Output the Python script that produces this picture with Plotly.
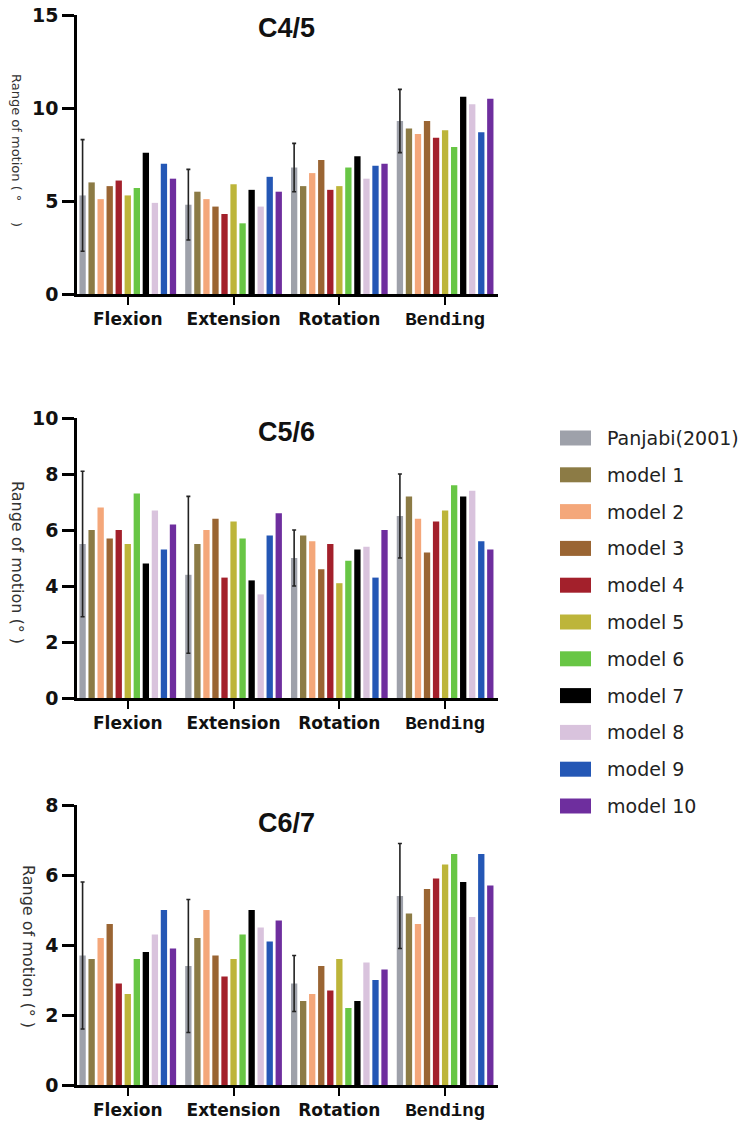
import plotly.graph_objects as go

W, H = 752, 1127

categories = ["Flexion", "Extension", "Rotation", "Bending"]
series_names = ["Panjabi(2001)", "model 1", "model 2", "model 3", "model 4", "model 5",
                "model 6", "model 7", "model 8", "model 9", "model 10"]
series_colors = ["#9EA1AA", "#8C7B45", "#F4A77A", "#9A6533", "#A3202B", "#BDB53A",
                 "#68C645", "#000000", "#D9C3DD", "#2457B5", "#6E2E9E"]

# C4/5 values, one row per series (Flexion, Extension, Rotation, Bending)
c45_values = [
    [5.3, 4.8, 6.8, 9.3],
    [6.0, 5.5, 5.8, 8.9],
    [5.1, 5.1, 6.5, 8.6],
    [5.8, 4.7, 7.2, 9.3],
    [6.1, 4.3, 5.6, 8.4],
    [5.3, 5.9, 5.8, 8.8],
    [5.7, 3.8, 6.8, 7.9],
    [7.6, 5.6, 7.4, 10.6],
    [4.9, 4.7, 6.2, 10.2],
    [7.0, 6.3, 6.9, 8.7],
    [6.2, 5.5, 7.0, 10.5],
]
c45_panjabi_err = [3.0, 1.9, 1.3, 1.7]

c56_values = [
    [5.5, 4.4, 5.0, 6.5],
    [6.0, 5.5, 5.8, 7.2],
    [6.8, 6.0, 5.6, 6.4],
    [5.7, 6.4, 4.6, 5.2],
    [6.0, 4.3, 5.5, 6.3],
    [5.5, 6.3, 4.1, 6.7],
    [7.3, 5.7, 4.9, 7.6],
    [4.8, 4.2, 5.3, 7.2],
    [6.7, 3.7, 5.4, 7.4],
    [5.3, 5.8, 4.3, 5.6],
    [6.2, 6.6, 6.0, 5.3],
]
c56_panjabi_err = [2.6, 2.8, 1.0, 1.5]

c67_values = [
    [3.7, 3.4, 2.9, 5.4],
    [3.6, 4.2, 2.4, 4.9],
    [4.2, 5.0, 2.6, 4.6],
    [4.6, 3.7, 3.4, 5.6],
    [2.9, 3.1, 2.7, 5.9],
    [2.6, 3.6, 3.6, 6.3],
    [3.6, 4.3, 2.2, 6.6],
    [3.8, 5.0, 2.4, 5.8],
    [4.3, 4.5, 3.5, 4.8],
    [5.0, 4.1, 3.0, 6.6],
    [3.9, 4.7, 3.3, 5.7],
]
c67_panjabi_err = [2.1, 1.9, 0.8, 1.5]

panel_titles = ["C4/5", "C5/6", "C6/7"]
panel_ranges = [[0, 15], [0, 10], [0, 8]]
panel_dticks = [5, 2, 2]
y_titles = ["Range of motion ( °\u00a0\u00a0\u00a0\u00a0\u00a0)",
            "Range of motion (° )", "Range of motion (° )"]

tick_text = ["<b>Flexion</b>", "<b>Extension</b>", "<b>Rotation</b>",
             "<span style='font-family:Liberation Mono;font-weight:bold;font-size:19px'>Bending</span>"]


def px_x(x):
    return x / W


def px_y(y):
    return 1 - y / H


# plot area pixel boxes (left, right, top, bottom)
boxes = [(77, 498, 15, 294), (77, 498, 418, 698), (77, 498, 805, 1085)]

fig = go.Figure()
panels = [(c45_values, c45_panjabi_err), (c56_values, c56_panjabi_err), (c67_values, c67_panjabi_err)]

for p, (vals, err) in enumerate(panels):
    xa = "x" if p == 0 else f"x{p+1}"
    ya = "y" if p == 0 else f"y{p+1}"
    for s, name in enumerate(series_names):
        kw = {}
        if s == 0:
            kw["error_y"] = dict(type="data", array=err, visible=True,
                                 color="#222222", thickness=1.6, width=2)
        fig.add_trace(go.Bar(
            x=categories, y=vals[s], name=name, marker_color=series_colors[s],
            marker_line_width=0, showlegend=False, xaxis=xa, yaxis=ya, **kw))

layout = dict(
    width=W, height=H, margin=dict(l=0, r=0, t=0, b=0, autoexpand=False),
    paper_bgcolor="white", plot_bgcolor="white",
    barmode="group", bargap=0.06, bargroupgap=0.3,
    font=dict(family="DejaVu Sans", color="#111111"),
)
for p in range(3):
    l, r, t, b = boxes[p]
    xk = "xaxis" if p == 0 else f"xaxis{p+1}"
    yk = "yaxis" if p == 0 else f"yaxis{p+1}"
    ya = "y" if p == 0 else f"y{p+1}"
    xa = "x" if p == 0 else f"x{p+1}"
    layout[xk] = dict(
        domain=[px_x(l), px_x(r)], anchor=ya, type="category", automargin=False,
        range=[-0.48, 3.5], showline=True, linecolor="black", linewidth=2.5,
        ticks="outside", ticklen=8, tickwidth=2, tickcolor="black",
        tickvals=categories, ticktext=tick_text,
        tickfont=dict(family="DejaVu Sans", size=17, color="#111111"),
        showgrid=False, zeroline=False, fixedrange=True)
    layout[yk] = dict(
        domain=[px_y(b), px_y(t)], anchor=xa, range=panel_ranges[p], automargin=False,
        dtick=panel_dticks[p], showline=True, linecolor="black", linewidth=2.5,
        ticks="outside", ticklen=12, tickwidth=2.5, tickcolor="black",
        tickfont=dict(family="DejaVu Sans", size=19, color="#111111", weight="bold"),
        showgrid=False, zeroline=False, fixedrange=True)
fig.update_layout(**layout)

annotations = []
title_y = [28, 432, 823]
for p in range(3):
    annotations.append(dict(
        text=f"<b>{panel_titles[p]}</b>", x=px_x(286), y=px_y(title_y[p]),
        xref="paper", yref="paper", xanchor="center", yanchor="middle",
        showarrow=False, font=dict(family="Liberation Sans", size=27, color="#111111")))

ytitle_pos = [(17, 150, 13), (17, 562, 16), (29, 946, 16)]
for p in range(3):
    x0, y0, sz = ytitle_pos[p]
    annotations.append(dict(
        text=y_titles[p], x=px_x(x0), y=px_y(y0), xref="paper", yref="paper",
        xanchor="center", yanchor="middle", textangle=90, showarrow=False,
        font=dict(family="DejaVu Sans", size=sz, color="#333333")))

# legend drawn as decorations
shapes = []
leg_top, leg_step = 438, 36.8
for i, (name, col) in enumerate(zip(series_names, series_colors)):
    cy = leg_top + i * leg_step
    shapes.append(dict(type="rect", xref="paper", yref="paper",
                       x0=px_x(560), x1=px_x(591), y0=px_y(cy + 7.5), y1=px_y(cy - 7.5),
                       fillcolor=col, line=dict(width=0)))
    annotations.append(dict(
        text=name, x=px_x(606), y=px_y(cy), xref="paper", yref="paper",
        xanchor="left", yanchor="middle", showarrow=False, borderpad=0,
        font=dict(family="DejaVu Sans", size=19, color="#222222")))

fig.update_layout(annotations=annotations, shapes=shapes)
fig.write_html("out.html", config={"displayModeBar": False},
               post_script="document.body.style.margin='0';")
